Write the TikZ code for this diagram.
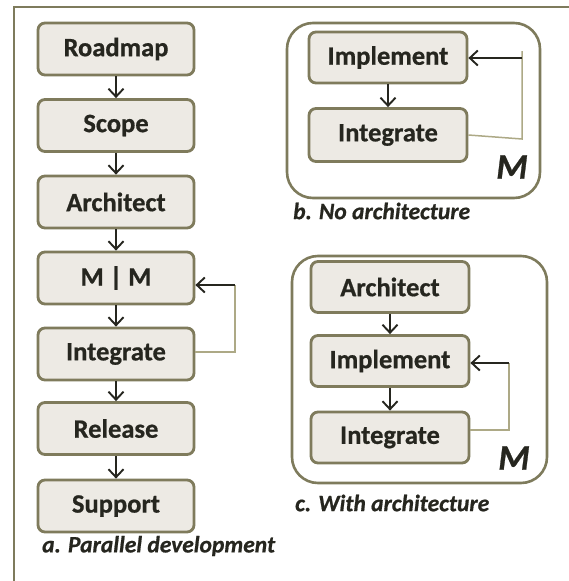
\documentclass[tikz,border=0pt]{standalone}
\usepackage{fontspec}
\setmainfont{Carlito}[BoldFeatures={FakeBold=0.7}, BoldItalicFeatures={FakeBold=0.7}]
\usetikzlibrary{arrows.meta}
\definecolor{boxfill}{HTML}{EDEAE4}
\definecolor{boxline}{HTML}{7F7B5C}
\definecolor{frameline}{HTML}{7E7B5C}
\definecolor{loopline}{HTML}{ADA986}
\definecolor{ink}{HTML}{26261F}
\tikzset{
  stepbox/.style={draw=boxline, line width=2.8pt, fill=boxfill, rounded corners=7pt,
    minimum width=156pt, minimum height=52pt, inner sep=0pt, text=ink,
    font=\fontsize{26.5}{28}\selectfont\bfseries},
  flow/.style={draw=ink, line width=1.7pt, -{Straight Barb[length=8pt,width=15pt,line width=1.9pt]}},
  loopback/.style={draw=loopline, line width=1.5pt},
  groupbox/.style={draw=frameline, line width=2.6pt, rounded corners=26pt},
  caption/.style={text=ink, font=\fontsize{23.5}{25}\selectfont\bfseries\itshape, anchor=west, inner sep=0pt},
  bigM/.style={text=ink, font=\fontsize{36}{38}\selectfont\bfseries\itshape, inner sep=0pt},
}
\begin{document}
\begin{tikzpicture}[x=1pt,y=-1pt]
\useasboundingbox (0,0) rectangle (569,581);
\fill[white] (0,0) rectangle (569,581);
% outer frame (top and left)
\draw[frameline, line width=2.2pt] (569,7) -- (14,7) -- (14,581);

% panel a
\node[stepbox] (road) at (116,49) {Roadmap};
\node[stepbox] (scope) at (116,125.5) {Scope};
\node[stepbox] (arch) at (116,202) {Architect};
\node[stepbox] (mm) at (116,278) {M | M};
\node[stepbox] (integ) at (116,354) {Integrate};
\node[stepbox] (rel) at (116,428.5) {Release};
\node[stepbox] (supp) at (116,506) {Support};
\draw[flow] (road) -- (scope);
\draw[flow] (scope) -- (arch);
\draw[flow] (arch) -- (mm);
\draw[flow] (mm) -- (integ);
\draw[flow] (integ) -- (rel);
\draw[flow] (rel) -- (supp);
\coordinate (aBot) at (235,352);
\coordinate (aTop) at (235,285);
\draw[loopback] (integ.east |- aBot) -- (aBot) -- (aTop);
\draw[flow] (aTop) -- (mm.east |- aTop);
\node[caption] (capa) at (42,546) {a. Parallel development};

% panel b
\draw[groupbox] (287,23) rectangle (540,198);
\node[stepbox, minimum width=158pt, minimum height=51pt] (implb) at (388,57.5) {Implement};
\node[stepbox, minimum width=158pt, minimum height=53pt] (integb) at (388,135) {Integrate};
\draw[flow] (implb) -- (integb);
\coordinate (bBot) at (522,139);
\coordinate (bTop) at (522,51);
\coordinate (bArr) at (522,58);
\draw[loopback] (integb.east |- 0,135) -- (bBot) -- (bTop);
\draw[flow] (bArr) -- (implb.east |- bArr);
\node[bigM] (mb) at (512,167) {M};
\node[caption] (capb) at (293,211) {b. No architecture};

% panel c
\draw[groupbox] (292,256) rectangle (547,483);
\node[stepbox, minimum width=158pt, minimum height=51pt] (archc) at (390,287) {Architect};
\node[stepbox, minimum width=158pt, minimum height=51pt] (implc) at (390,361) {Implement};
\node[stepbox, minimum width=158pt, minimum height=51pt] (integc) at (390,437.5) {Integrate};
\draw[flow] (archc) -- (implc);
\draw[flow] (implc) -- (integc);
\coordinate (cBot) at (509,430);
\coordinate (cTop) at (509,363);
\draw[loopback] (integc.east |- cBot) -- (cBot) -- (cTop);
\draw[flow] (cTop) -- (implc.east |- cTop);
\node[bigM] (mc) at (514,458) {M};
\node[caption] (capc) at (295,503) {c. With architecture};
\end{tikzpicture}
\end{document}
